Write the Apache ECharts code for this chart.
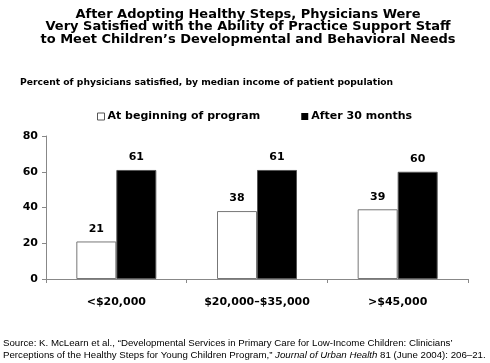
<!DOCTYPE html>
<html><head><meta charset="utf-8">
<script src="https://cdn.jsdelivr.net/npm/echarts@6/dist/echarts.min.js"></script>
<style>html,body{margin:0;padding:0;background:#fff}#c{width:490px;height:363px}</style>
</head><body><div id="c"></div>
<script>
var categories = ['<$20,000', '$20,000\u2013$35,000', '>$45,000'];
var seriesNames = ['At beginning of program', 'After 30 months'];
var beginning = [21, 38, 39];
var after30 = [61, 61, 60];
var yTicks = [0, 20, 40, 60, 80];

var chart = echarts.init(document.getElementById('c'));
var bold = 'DejaVu Sans';
chart.setOption({
  backgroundColor: '#fff',
  animation: false,
  title: [
    {
      text: 'After Adopting Healthy Steps, Physicians Were\nVery Satisfied with the Ability of Practice Support Staff\nto Meet Children\u2019s Developmental and Behavioral Needs',
      left: 248, top: 8, padding: 0,
      textAlign: 'center',
      textStyle: { fontFamily: bold, fontWeight: 'bold', fontSize: 13, lineHeight: 12.6, color: '#000' }
    },
    {
      text: 'Percent of physicians satisfied, by median income of patient population',
      left: 20, top: 78, padding: 0,
      textStyle: { fontFamily: bold, fontWeight: 'bold', fontSize: 9.2, color: '#000' }
    },
    {
      text: '{n|Source: K. McLearn et al., \u201cDevelopmental Services in Primary Care for Low-Income Children: Clinicians\u2019}\n{n|Perceptions of the Healthy Steps for Young Children Program,\u201d }{i|Journal of Urban Health}{n| 81 (June 2004): 206\u201321.}',
      left: 3, top: 337, padding: 0,
      textStyle: {
        fontWeight: 'normal',
        rich: {
          n: { fontFamily: 'Liberation Sans', fontSize: 9.7, fontWeight: 'normal', color: '#000', lineHeight: 12 },
          i: { fontFamily: 'Liberation Sans', fontSize: 9.7, fontWeight: 'normal', fontStyle: 'italic', color: '#000', lineHeight: 12 }
        }
      }
    }
  ],
  legend: {
    left: 97, top: 111, padding: 0,
    icon: 'rect', itemWidth: 7, itemHeight: 7, itemGap: 41,
    textStyle: { fontFamily: bold, fontWeight: 'bold', fontSize: 11, color: '#000', padding: [0, 0, 0, -2] },
    data: [
      { name: seriesNames[0], itemStyle: { color: '#fff', borderColor: '#555', borderWidth: 1 } },
      { name: seriesNames[1], itemStyle: { color: '#000', borderColor: '#000', borderWidth: 0 } }
    ]
  },
  grid: { left: 46, right: 22, top: 136, bottom: 84, containLabel: false },
  xAxis: {
    type: 'category', data: categories,
    axisLine: { lineStyle: { color: '#888', width: 1 } },
    axisTick: { show: true, length: 4, lineStyle: { color: '#888' } },
    axisLabel: { fontFamily: bold, fontWeight: 'bold', fontSize: 11, color: '#000', margin: 18 }
  },
  yAxis: {
    type: 'value', min: yTicks[0], max: yTicks[yTicks.length - 1], interval: 20,
    splitLine: { show: false },
    axisLine: { show: true, lineStyle: { color: '#888', width: 1 } },
    axisTick: { show: true, length: 4, lineStyle: { color: '#888' } },
    axisLabel: { fontFamily: bold, fontWeight: 'bold', fontSize: 11, color: '#000', margin: 8 }
  },
  series: [
    {
      name: seriesNames[0], type: 'bar', data: beginning,
      barWidth: 40, barGap: '0%',
      itemStyle: { color: '#fff', borderColor: '#777', borderWidth: 1 },
      label: { show: true, position: 'top', distance: 7, fontFamily: bold, fontWeight: 'bold', fontSize: 11, color: '#000' }
    },
    {
      name: seriesNames[1], type: 'bar', data: after30,
      barWidth: 40, barGap: '0%',
      itemStyle: { color: '#000', borderColor: '#555', borderWidth: 1 },
      label: { show: true, position: 'top', distance: 7, fontFamily: bold, fontWeight: 'bold', fontSize: 11, color: '#000' }
    }
  ]
});
</script></body></html>
